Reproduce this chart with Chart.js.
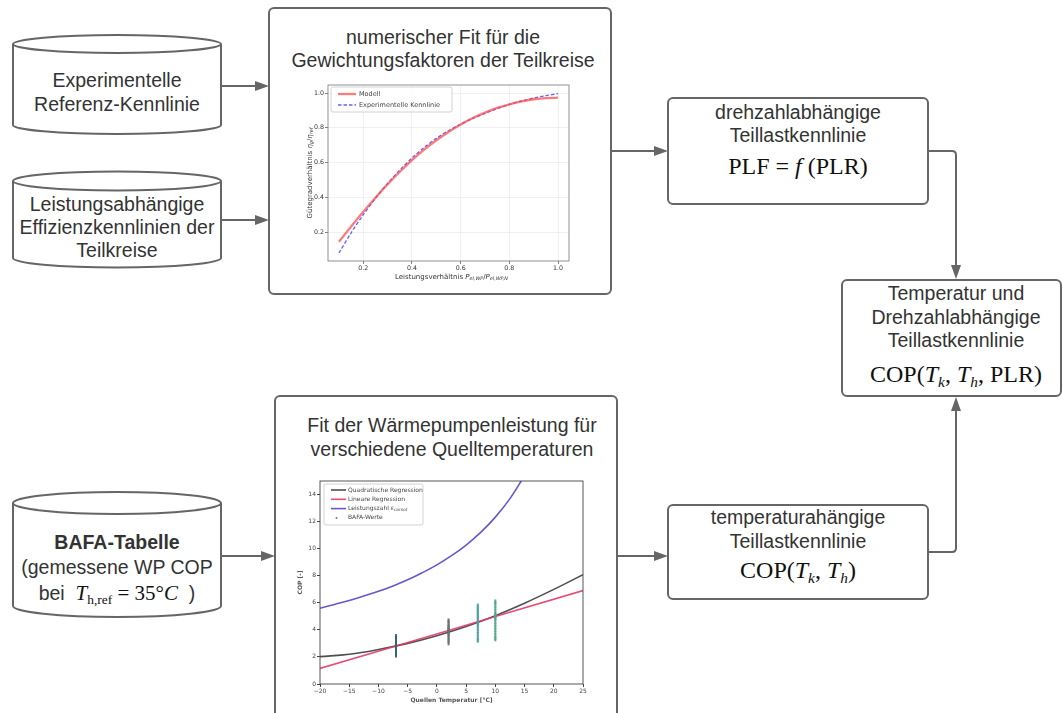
<!DOCTYPE html>
<html><head><meta charset="utf-8">
<script src="https://cdn.jsdelivr.net/npm/chart.js@4.4.1/dist/chart.umd.min.js"></script>
<style>
html,body{margin:0;padding:0;background:#fff;}
#page{position:relative;width:1063px;height:713px;overflow:hidden;font-family:"Liberation Sans",Arial,sans-serif;color:#333;}
svg{position:absolute;left:0;top:0;}
.t{position:absolute;transform:translate(-50%,-50%);white-space:nowrap;font-size:19.5px;line-height:1;}
.m{font-family:"Liberation Serif","Times New Roman",serif;color:#111;font-size:24px;}
.m sub{font-size:0.64em;vertical-align:-0.32em;font-style:italic;line-height:0;}
.b{font-weight:bold;}
canvas{position:absolute;}
</style></head>
<body>
<div id="page">
<svg width="1063" height="713" viewBox="0 0 1063 713">
 <g fill="#fff" stroke="#666" stroke-width="2">
  <path d="M13,44 A104,9 0 0 1 221,44 L221,125 A104,9 0 0 1 13,125 Z"/>
  <path d="M13,44 A104,9 0 0 0 221,44" fill="none"/>
  <path d="M13,181 A104,9.5 0 0 1 221,181 L221,258 A104,9.5 0 0 1 13,258 Z"/>
  <path d="M13,181 A104,9.5 0 0 0 221,181" fill="none"/>
  <path d="M13,503 A104,11 0 0 1 221,503 L221,606 A104,11 0 0 1 13,606 Z"/>
  <path d="M13,503 A104,11 0 0 0 221,503" fill="none"/>
  <rect x="269" y="8" width="342" height="286" rx="5"/>
  <rect x="668" y="98" width="260" height="106" rx="5"/>
  <rect x="842" y="280" width="219" height="116" rx="5"/>
  <rect x="275" y="396" width="342" height="340" rx="5"/>
  <rect x="668" y="505" width="260" height="94" rx="5"/>
 </g>
 <g fill="none" stroke="#666" stroke-width="2">
  <path d="M222,86 H257"/>
  <path d="M222,220 H257"/>
  <path d="M611,151 H656"/>
  <path d="M928,151 H952 Q956,151 956,155 V267"/>
  <path d="M222,556 H263"/>
  <path d="M617,556 H656"/>
  <path d="M928,552 H952 Q956,552 956,548 V410"/>
 </g>
 <g fill="#666">
  <path d="M269,86 L255,81 L255,91 Z"/>
  <path d="M269,220 L255,215 L255,225 Z"/>
  <path d="M668,151 L654,146 L654,156 Z"/>
  <path d="M956,279 L951,265 L961,265 Z"/>
  <path d="M275,556 L261,551 L261,561 Z"/>
  <path d="M668,556 L654,551 L654,561 Z"/>
  <path d="M956,397 L951,411 L961,411 Z"/>
 </g>
</svg>

<div class="t" style="left:117px;top:81px">Experimentelle</div>
<div class="t" style="left:117px;top:105px">Referenz-Kennlinie</div>
<div class="t" style="left:117px;top:205px">Leistungsabhängige</div>
<div class="t" style="left:117px;top:228px">Effizienzkennlinien der</div>
<div class="t" style="left:117px;top:251px">Teilkreise</div>

<div class="t" style="left:443px;top:38px">numerischer Fit für die</div>
<div class="t" style="left:443px;top:61px">Gewichtungsfaktoren der Teilkreise</div>

<div class="t" style="left:798px;top:113px">drehzahlabhängige</div>
<div class="t" style="left:798px;top:136px">Teillastkennlinie</div>
<div class="t m" style="left:798px;top:166px">PLF = <i>f</i> (PLR)</div>

<div class="t" style="left:956px;top:294px">Temperatur und</div>
<div class="t" style="left:956px;top:318px">Drehzahlabhängige</div>
<div class="t" style="left:956px;top:341px">Teillastkennlinie</div>
<div class="t m" style="left:956px;top:374px">COP(<i>T</i><sub>k</sub>, <i>T</i><sub>h</sub>, PLR)</div>

<div class="t" style="left:452px;top:426px">Fit der Wärmepumpenleistung für</div>
<div class="t" style="left:452px;top:450px">verschiedene Quelltemperaturen</div>

<div class="t" style="left:798px;top:518px">temperaturahängige</div>
<div class="t" style="left:798px;top:542px">Teillastkennlinie</div>
<div class="t m" style="left:798px;top:570px">COP(<i>T</i><sub>k</sub>, <i>T</i><sub>h</sub>)</div>

<div class="t b" style="left:117px;top:543px">BAFA-Tabelle</div>
<div class="t" style="left:117px;top:568px">(gemessene WP COP</div>
<div class="t" style="left:117px;top:593px">bei &nbsp;<span class="m" style="font-size:21px"><i>T</i><sub style="font-style:normal">h,ref</sub> = 35°<i>C</i></span> &nbsp;)</div>

<canvas id="c1" width="280" height="212" style="left:295px;top:80px"></canvas>
<canvas id="c2" width="300" height="238" style="left:295px;top:475px"></canvas>
</div>

<script>
// ---------- Chart 1: numerischer Fit ----------
const plrX      = [0.1,0.15,0.2,0.25,0.3,0.35,0.4,0.45,0.5,0.55,0.6,0.65,0.7,0.75,0.8,0.85,0.9,0.95,1.0];
const modellY   = [0.145,0.232,0.317,0.398,0.475,0.547,0.614,0.674,0.728,0.776,0.819,0.856,0.887,0.914,0.935,0.952,0.964,0.971,0.973];
const experimY  = [0.080,0.196,0.300,0.395,0.480,0.557,0.626,0.687,0.739,0.783,0.821,0.854,0.883,0.910,0.934,0.954,0.971,0.985,0.996];
const fitXTicks = [0.2,0.4,0.6,0.8,1.0];
const fitYTicks = [0.2,0.4,0.6,0.8,1.0];
const fitLabels = ['Modell','Experimentelle Kennlinie'];
const fitXTitle = 'Leistungsverhältnis $P$_{el,WP}/$P$_{el,WP,N}';
const fitYTitle = 'Gütegradverhältnis $η$_{g}/$η$_{ref}';

// ---------- Chart 2: COP über Quellentemperatur ----------
const quadX    = [-20,-15,-10,-5,0,5,10,15,20,25];
const quadY    = [2.02,2.20,2.55,3.00,3.57,4.25,5.05,5.97,6.99,8.08];
const linX     = [-20,-7,2,7,10,25];
const linY     = [1.15,2.81,3.96,4.60,4.98,6.90];
const carnotX  = [-20,-17.5,-15,-12.5,-10,-7.5,-5,-2.5,0,2.5,5,7.5,10,12.5,15];
const carnotY  = [5.60,5.88,6.17,6.50,6.85,7.25,7.70,8.22,8.80,9.48,10.27,11.20,12.33,13.70,15.40];
const bafaTemps = [-7,2,7,10];
const bafaM7   = [2.1,2.2,2.3,2.4,2.5,2.6,2.7,2.75,2.8,2.85,2.9,3.0,3.1,3.2,3.3,3.45,3.55];
const bafaP2   = [3.0,3.15,3.3,3.45,3.6,3.7,3.8,3.9,3.95,4.0,4.1,4.2,4.3,4.45,4.6,4.7];
const bafaP7   = [3.2,3.3,3.5,3.7,3.9,4.1,4.3,4.45,4.6,4.75,4.9,5.05,5.2,5.35,5.5,5.65,5.8];
const bafaP10  = [3.3,3.4,3.6,3.8,4.0,4.2,4.4,4.6,4.8,4.9,5.0,5.1,5.2,5.4,5.6,5.8,6.0,6.1];
const copXTicks = [-20,-15,-10,-5,0,5,10,15,20,25];
const copYTicks = [0,2,4,6,8,10,12,14];
const copLabels = ['Quadratische Regression','Lineare Regression','Leistungszahl $ε$_{carnot}','BAFA-Werte'];
const copXTitle = 'Quellen Temperatur [°C]';
const copYTitle = 'COP [-]';

const FAM = 'DejaVu Sans';

function parseRich(s){
  const parts=[]; const re=/\$([^$]+)\$|_\{([^}]*)\}|([^$_]+)/g; let m;
  while((m=re.exec(s))){
    if(m[1]!==undefined) parts.push([m[1],'i']);
    else if(m[2]!==undefined) parts.push([m[2],'s']);
    else parts.push([m[3],'n']);
  }
  return parts;
}
function drawRich(ctx, str, x, y, size, align, color){
  const parts = parseRich(str);
  const fonts = parts.map(p => p[1]==='s' ? `italic ${size*0.7}px "${FAM}"` : p[1]==='i' ? `italic ${size}px "${FAM}"` : `${size}px "${FAM}"`);
  const ws = []; let w = 0;
  parts.forEach((p,i)=>{ ctx.font=fonts[i]; const mw=ctx.measureText(p[0]).width; ws.push(mw); w+=mw; });
  let cx = align==='center' ? x - w/2 : x;
  ctx.fillStyle=color; ctx.textBaseline='middle'; ctx.textAlign='left';
  parts.forEach((p,i)=>{ ctx.font=fonts[i]; ctx.fillText(p[0], cx, p[1]==='s' ? y+size*0.3 : y); cx+=ws[i]; });
}

const framePlugin = {
  id:'frame',
  afterDatasetsDraw(chart, args, o){
    const {ctx, chartArea:a} = chart;
    ctx.save(); ctx.strokeStyle=o.color; ctx.lineWidth=o.width;
    ctx.strokeRect(a.left, a.top, a.right-a.left, a.bottom-a.top);
    ctx.restore();
  }
};

const insideLegend = {
  id:'insideLegend',
  afterDraw(chart, args, o){
    const {ctx, chartArea:a} = chart;
    const items = chart.data.datasets.filter(d=>!d.legendSkip);
    const x0=a.left+o.dx, y0=a.top+o.dy;
    ctx.save();
    ctx.fillStyle='rgba(255,255,255,0.85)'; ctx.strokeStyle='#c8c8c8'; ctx.lineWidth=0.8;
    ctx.beginPath(); ctx.roundRect(x0,y0,o.w,o.h,2); ctx.fill(); ctx.stroke();
    items.forEach((d,i)=>{
      const y = y0 + o.first + i*o.row;
      if(d.showLine===false){
        ctx.fillStyle=d.backgroundColor; ctx.beginPath(); ctx.arc(x0+o.sx+o.sl/2-2, y, 1, 0, Math.PI*2); ctx.fill();
      } else {
        ctx.strokeStyle=d.borderColor; ctx.lineWidth=d.borderWidth; ctx.setLineDash(d.borderDash||[]);
        ctx.beginPath(); ctx.moveTo(x0+o.sx,y); ctx.lineTo(x0+o.sx+o.sl,y); ctx.stroke(); ctx.setLineDash([]);
      }
      drawRich(ctx, d.label, x0+o.tx, y, o.size, 'left', '#444');
    });
    ctx.restore();
  }
};

const richTitles = {
  id:'richTitles',
  afterDraw(chart, args, o){
    if(!o.x) return;
    const {ctx, chartArea:a} = chart;
    ctx.save();
    drawRich(ctx, o.x, (a.left+a.right)/2 + (o.xShift||0), o.xY, o.size, 'center', '#333');
    ctx.translate(o.yX, (a.top+a.bottom)/2);
    ctx.rotate(-Math.PI/2);
    drawRich(ctx, o.y, 0, 0, o.size, 'center', '#333');
    ctx.restore();
  }
};

Chart.register(framePlugin, insideLegend, richTitles);

const tickFont = {family:FAM, size:6.3};

new Chart(document.getElementById('c1'), {
  type:'line',
  data:{datasets:[
    {label:fitLabels[0], data:plrX.map((x,i)=>({x, y:modellY[i]})), borderColor:'rgba(255,70,70,0.72)', borderWidth:2.3, pointRadius:0, tension:0.3},
    {label:fitLabels[1], data:plrX.map((x,i)=>({x, y:experimY[i]})), borderColor:'rgba(70,70,255,0.85)', borderWidth:1.3, borderDash:[3.5,2], pointRadius:0, tension:0.3}
  ]},
  options:{
    responsive:false, animation:false, events:[],
    layout:{padding:{top:5,right:6,left:0,bottom:0}},
    plugins:{
      legend:{display:false}, tooltip:{enabled:false},
      frame:{color:'#777', width:0.8},
      insideLegend:{dx:3, dy:2, w:121, h:25, first:7, row:11, sx:7, sl:18, tx:28, size:6.5},
      richTitles:{x:fitXTitle, y:fitYTitle, xY:197, yX:15, size:7, xShift:3}
    },
    scales:{
      x:{type:'linear', min:0.055, max:1.045,
         afterFit:s=>{s.height=31;},
         afterBuildTicks:s=>{s.ticks=fitXTicks.map(v=>({value:v}));},
         ticks:{font:tickFont, color:'#333', padding:1, maxRotation:0, callback:v=>v.toFixed(1)},
         grid:{color:'rgba(0,0,0,0.07)', tickColor:'#666', tickLength:3, lineWidth:0.8},
         border:{display:false}},
      y:{type:'linear', min:0.034, max:1.046,
         afterFit:s=>{s.width=33;},
         afterBuildTicks:s=>{s.ticks=fitYTicks.map(v=>({value:v}));},
         ticks:{font:tickFont, color:'#333', padding:1, callback:v=>v.toFixed(1)},
         grid:{color:'rgba(0,0,0,0.07)', tickColor:'#666', tickLength:3, lineWidth:0.8},
         border:{display:false}}
    }
  }
});

const bafaSets = [
  {t:bafaTemps[0], v:bafaM7, c:'rgba(60,95,120,0.9)'},
  {t:bafaTemps[1], v:bafaP2, c:'rgba(100,115,112,0.9)'},
  {t:bafaTemps[2], v:bafaP7, c:'rgba(70,160,168,0.9)'},
  {t:bafaTemps[3], v:bafaP10, c:'rgba(80,165,135,0.9)'}
];
const tf2 = {family:FAM, size:6};

new Chart(document.getElementById('c2'), {
  type:'line',
  data:{datasets:[
    {label:copLabels[0], data:quadX.map((x,i)=>({x, y:quadY[i]})), borderColor:'rgba(60,60,60,0.9)', borderWidth:1.6, pointRadius:0, tension:0.4, order:3},
    {label:copLabels[1], data:linX.map((x,i)=>({x, y:linY[i]})), borderColor:'rgba(225,60,105,0.9)', borderWidth:1.6, pointRadius:0, order:2},
    {label:copLabels[2], data:carnotX.map((x,i)=>({x, y:carnotY[i]})), borderColor:'rgba(85,70,200,0.9)', borderWidth:1.6, pointRadius:0, tension:0.4, order:1},
    ...bafaSets.map((b,k)=>({label:copLabels[3], legendSkip:k>0, showLine:false, data:b.v.map(y=>({x:b.t, y})),
       backgroundColor:k===0?'#777':b.c, pointBorderColor:b.c, pointBorderWidth:2, pointStyle:'line', pointRotation:90, pointRadius:2, order:0}))
  ]},
  options:{
    responsive:false, animation:false, events:[],
    layout:{padding:{top:6,right:12,left:0,bottom:0}},
    plugins:{
      legend:{display:false}, tooltip:{enabled:false},
      frame:{color:'#444', width:0.9},
      insideLegend:{dx:4, dy:3, w:99, h:41, first:6, row:9.3, sx:7, sl:15, tx:24, size:6}
    },
    scales:{
      x:{type:'linear', min:-20, max:25,
         afterFit:s=>{s.height=29;},
         afterBuildTicks:s=>{s.ticks=copXTicks.map(v=>({value:v}));},
         ticks:{font:tf2, color:'#444', padding:1, maxRotation:0, callback:v=>v<0?'\u2212'+Math.abs(v):String(v)},
         grid:{drawOnChartArea:false, tickColor:'#444', tickLength:3},
         border:{display:false},
         title:{display:true, text:copXTitle, font:{family:FAM, size:6, weight:'bold'}, color:'#555', padding:{top:0,bottom:9}}},
      y:{type:'linear', min:0, max:15,
         afterFit:s=>{s.width=25;},
         afterBuildTicks:s=>{s.ticks=copYTicks.map(v=>({value:v}));},
         ticks:{font:tf2, color:'#444', padding:1, callback:v=>String(v)},
         grid:{drawOnChartArea:false, tickColor:'#444', tickLength:3},
         border:{display:false},
         title:{display:true, text:copYTitle, font:{family:FAM, size:6, weight:'bold'}, color:'#555', padding:{top:1.4,bottom:0}}}
    }
  }
});
</script>
</body></html>
